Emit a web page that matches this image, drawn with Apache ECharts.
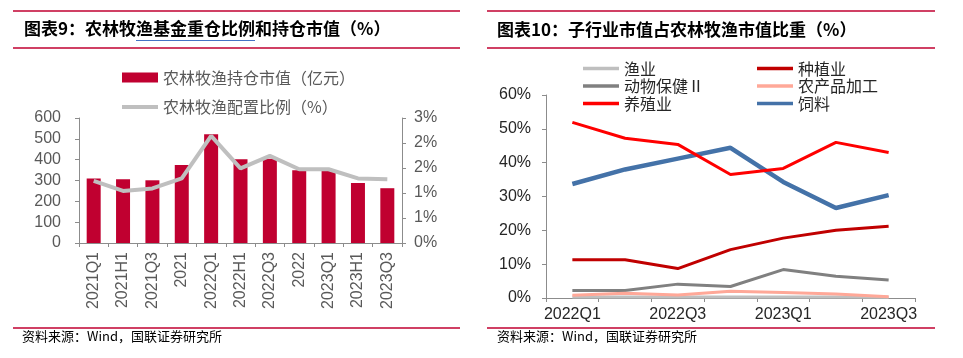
<!DOCTYPE html>
<html><head><meta charset="utf-8">
<script src="https://cdn.jsdelivr.net/npm/echarts@6/dist/echarts.min.js"></script>
<style>html,body{margin:0;padding:0;background:#fff;}#c{width:963px;height:358px;}</style>
</head><body><div id="c"></div>
<script>
// ---- Left chart data ----
const leftCategories = ['2021Q1','2021H1','2021Q3','2021','2022Q1','2022H1','2022Q3','2022','2023Q1','2023H1','2023Q3'];
const holdingValue = [310, 306, 301, 374, 522, 402, 405, 349, 349, 288, 263];   // 亿元
const allocationRatio = [1.49, 1.25, 1.31, 1.55, 2.57, 1.79, 2.09, 1.77, 1.77, 1.55, 1.53]; // %
const leftYTicks = [0, 600, 100];
const rightYTicks = [0, 3, 0.6];

// ---- Right chart data ----
const rightCategories = ['2022Q1','2022Q2','2022Q3','2022Q4','2023Q1','2023Q2','2023Q3'];
const fishery = [0.3, 0.3, 0.3, 0.3, 0.3, 0.3, 0.2];
const planting = [11.3, 11.3, 8.7, 14.3, 17.7, 20.0, 21.2];
const animalHealth = [2.2, 2.2, 4.1, 3.4, 8.4, 6.4, 5.3];
const agriProcessing = [0.8, 1.4, 0.9, 2.0, 1.6, 1.2, 0.4];
const breeding = [51.9, 47.2, 45.4, 36.5, 38.3, 46.0, 43.0];
const feed = [33.7, 38.0, 41.2, 44.4, 34.3, 26.6, 30.4];

const CJK = '"Noto Sans CJK SC", sans-serif';
const NUM = '"Liberation Sans", Arial, sans-serif';
const RED = '#C00030';
const axisGray = '#8C8C8C';

const chart = echarts.init(document.getElementById('c'), null, {renderer: 'canvas'});

function hline(x1, x2, y, color, w) {
  return {type: 'line', shape: {x1: x1, y1: y, x2: x2, y2: y}, style: {stroke: color, lineWidth: w}, silent: true};
}

const option = {
  backgroundColor: '#fff',
  animation: false,
  title: [
    {text: '图表9：农林牧渔基金重仓比例和持仓市值（%）', left: 24, top: 20, padding: 0,
     textStyle: {fontFamily: CJK, fontSize: 17, fontWeight: 'bold', color: '#000'}},
    {text: '图表10：子行业市值占农林牧渔市值比重（%）', left: 497, top: 21, padding: 0,
     textStyle: {fontFamily: CJK, fontSize: 17, fontWeight: 'bold', color: '#000'}},
    {text: '资料来源：Wind，国联证券研究所', left: 22, top: 330, padding: 0,
     textStyle: {fontFamily: CJK, fontSize: 13, fontWeight: 'normal', color: '#000'}},
    {text: '资料来源：Wind，国联证券研究所', left: 497, top: 330, padding: 0,
     textStyle: {fontFamily: CJK, fontSize: 13, fontWeight: 'normal', color: '#000'}}
  ],
  graphic: [
    hline(13, 460, 11, RED, 1.5), hline(13, 460, 48, RED, 1.5), hline(13, 460, 328, RED, 1.5),
    hline(487, 935, 11, RED, 1.5), hline(487, 935, 48, RED, 1.5), hline(487, 935, 328, RED, 1.5),
    hline(136, 255, 40.5, '#4472C4', 1)
  ],
  legend: [
    {data: [{name: '农林牧渔持仓市值（亿元）', icon: 'rect'}], left: 122, top: 69.5, padding: 0, itemWidth: 36, itemHeight: 10,
     textStyle: {fontFamily: CJK, fontSize: 16, lineHeight: 16, color: '#595959'}},
    {data: [{name: '农林牧渔配置比例（%）', icon: 'rect'}], left: 122, top: 99, padding: 0, itemWidth: 36, itemHeight: 4,
     textStyle: {fontFamily: CJK, fontSize: 16, lineHeight: 16, color: '#595959'}},
    {data: [{name: '渔业', icon: 'rect'}, {name: '动物保健Ⅱ', icon: 'rect'}, {name: '养殖业', icon: 'rect'}],
     orient: 'vertical', left: 583, top: 60.5, padding: 0, itemWidth: 36, itemHeight: 3.5, itemGap: 1.5,
     textStyle: {fontFamily: CJK, fontSize: 16, lineHeight: 15, color: '#262626'}},
    {data: [{name: '种植业', icon: 'rect'}, {name: '农产品加工', icon: 'rect'}, {name: '饲料', icon: 'rect'}],
     orient: 'vertical', left: 757, top: 60.5, padding: 0, itemWidth: 36, itemHeight: 3.5, itemGap: 1.5,
     textStyle: {fontFamily: CJK, fontSize: 16, lineHeight: 15, color: '#262626'}}
  ],
  grid: [
    {left: 79, top: 118, width: 323, height: 125, containLabel: false},
    {left: 546, top: 95, width: 369, height: 203, containLabel: false}
  ],
  xAxis: [
    {type: 'category', gridIndex: 0, data: leftCategories, boundaryGap: true,
     axisLine: {lineStyle: {color: axisGray, width: 1}},
     axisTick: {show: true, interval: 0, length: 4, lineStyle: {color: axisGray}},
     axisLabel: {interval: 0, rotate: 90, margin: 9, fontFamily: NUM, fontSize: 16, color: '#595959'}},
    {type: 'category', gridIndex: 1, data: rightCategories, boundaryGap: true,
     axisLine: {lineStyle: {color: axisGray, width: 1}},
     axisTick: {show: true, interval: 0, length: 4, lineStyle: {color: axisGray}},
     axisLabel: {interval: 1, margin: 9, fontFamily: NUM, fontSize: 16, color: '#262626'}}
  ],
  yAxis: [
    {type: 'value', gridIndex: 0, min: leftYTicks[0], max: leftYTicks[1], interval: leftYTicks[2], position: 'left',
     axisLine: {show: true, lineStyle: {color: axisGray}},
     axisTick: {show: true, length: 4, lineStyle: {color: axisGray}},
     splitLine: {show: false},
     axisLabel: {margin: 18, fontFamily: NUM, fontSize: 16, color: '#595959'}},
    {type: 'value', gridIndex: 0, min: rightYTicks[0], max: rightYTicks[1], interval: rightYTicks[2], position: 'right',
     axisLine: {show: true, lineStyle: {color: axisGray}},
     axisTick: {show: true, length: 4, lineStyle: {color: axisGray}},
     splitLine: {show: false},
     axisLabel: {margin: 12, fontFamily: NUM, fontSize: 16, color: '#595959',
       formatter: function (v) { return Math.round(v) + '%'; }}},
    {type: 'value', gridIndex: 1, min: 0, max: 60, interval: 10,
     axisLine: {show: true, lineStyle: {color: axisGray}},
     axisTick: {show: true, length: 4, lineStyle: {color: axisGray}},
     splitLine: {show: false},
     axisLabel: {margin: 15, fontFamily: NUM, fontSize: 16, color: '#262626', formatter: '{value}%'}}
  ],
  series: [
    {name: '农林牧渔持仓市值（亿元）', type: 'bar', xAxisIndex: 0, yAxisIndex: 0, data: holdingValue,
     barWidth: 14, itemStyle: {color: RED}},
    {name: '农林牧渔配置比例（%）', type: 'line', xAxisIndex: 0, yAxisIndex: 1, data: allocationRatio,
     symbol: 'none', lineStyle: {color: '#BFBFBF', width: 4}, itemStyle: {color: '#BFBFBF'}},
    {name: '渔业', type: 'line', xAxisIndex: 1, yAxisIndex: 2, data: fishery, symbol: 'none',
     lineStyle: {color: '#BFBFBF', width: 3}, itemStyle: {color: '#BFBFBF'}},
    {name: '动物保健Ⅱ', type: 'line', xAxisIndex: 1, yAxisIndex: 2, data: animalHealth, symbol: 'none',
     lineStyle: {color: '#808080', width: 3}, itemStyle: {color: '#808080'}},
    {name: '农产品加工', type: 'line', xAxisIndex: 1, yAxisIndex: 2, data: agriProcessing, symbol: 'none',
     lineStyle: {color: '#FFA898', width: 3}, itemStyle: {color: '#FFA898'}},
    {name: '种植业', type: 'line', xAxisIndex: 1, yAxisIndex: 2, data: planting, symbol: 'none',
     lineStyle: {color: '#C00000', width: 3}, itemStyle: {color: '#C00000'}},
    {name: '饲料', type: 'line', xAxisIndex: 1, yAxisIndex: 2, data: feed, symbol: 'none',
     lineStyle: {color: '#4472A8', width: 4.5}, itemStyle: {color: '#4472A8'}},
    {name: '养殖业', type: 'line', xAxisIndex: 1, yAxisIndex: 2, data: breeding, symbol: 'none',
     lineStyle: {color: '#FF0000', width: 3}, itemStyle: {color: '#FF0000'}}
  ]
};
chart.setOption(option);
</script>
</body></html>
